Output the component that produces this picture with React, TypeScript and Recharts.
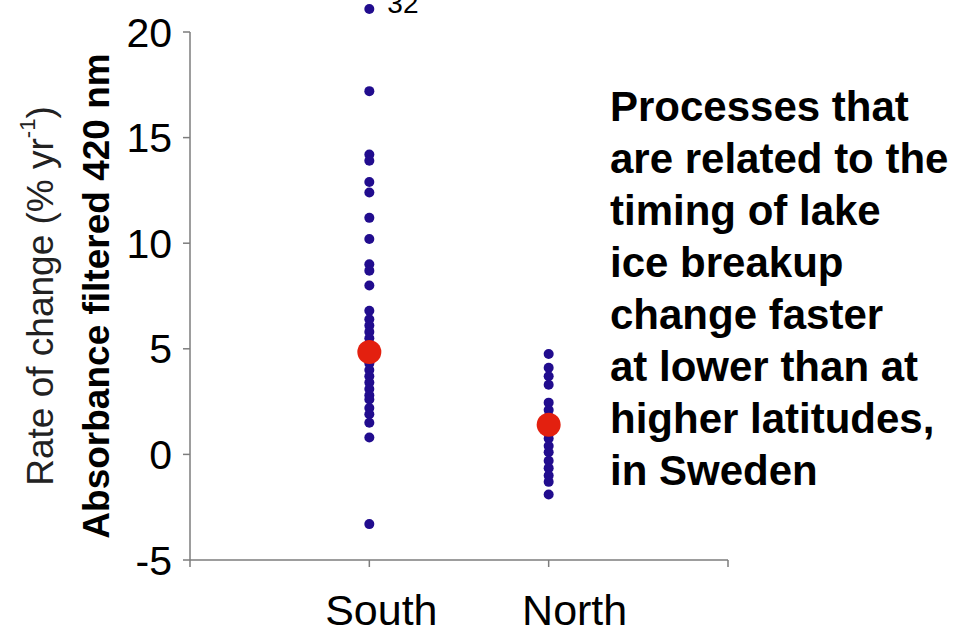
import React from "react";
import { ScatterChart, Scatter, XAxis, YAxis, ReferenceDot } from "recharts";

// x position of each group on the numeric category axis
const CATEGORIES = ["South", "North"];
const CATEGORY_POS = [1, 2];

// rates of change (% per year)
const SOUTH_VALUES = [
  17.2, 14.2, 13.9, 12.9, 12.4, 11.2, 10.2, 9.0, 8.7, 8.0, 6.8, 6.4, 6.1, 5.8, 5.5, 5.2,
  4.9, 4.6, 4.3, 4.0, 3.7, 3.4, 3.1, 2.8, 2.6, 2.2, 1.9, 1.5, 0.8, -3.3,
];
const SOUTH_OUTLIER = 32; // off the scale, drawn above the frame
const NORTH_VALUES = [
  4.75, 4.1, 3.7, 3.3, 2.45, 2.1, 1.8, 1.4, 1.0, 0.75, 0.4, 0.1, -0.3, -0.65, -1.0, -1.3, -1.9,
];
const MEANS = [4.85, 1.4];

const Y_TICKS = [-5, 0, 5, 10, 15, 20];
const Y_MIN = -5;
const Y_MAX = 20;

const BLUE = "#210c8e";
const RED = "#e3200f";
const AXIS = "#7d7d7d";
const FONT = "'Liberation Sans', Arial, Helvetica, sans-serif";

const southData = SOUTH_VALUES.map((y) => ({ x: CATEGORY_POS[0], y }));
const northData = NORTH_VALUES.map((y) => ({ x: CATEGORY_POS[1], y }));
const meanData = MEANS.map((y, i) => ({ x: CATEGORY_POS[i], y }));

const smallDot = (props: any) => <circle cx={props.cx} cy={props.cy} r={5} fill={BLUE} />;
const bigDot = (props: any) => <circle cx={props.cx} cy={props.cy} r={12} fill={RED} />;

// the 32 value sits above the top of the frame with its value written beside it
const OutlierDot = (props: any) => (
  <g>
    <circle cx={props.cx} cy={props.cy - 23} r={5} fill={BLUE} />
    <text x={props.cx + 18} y={props.cy - 19} fontSize={28} fontFamily={FONT} fill="#000">
      {SOUTH_OUTLIER}
    </text>
  </g>
);

const labelShift: Record<string, number> = { South: 12, North: 26 };

const CategoryTick = (props: any) => {
  const idx = CATEGORY_POS.indexOf(props.payload.value);
  if (idx < 0) return null;
  const name = CATEGORIES[idx];
  return (
    <text
      x={props.x + (labelShift[name] || 0)}
      y={props.y}
      dy={56}
      textAnchor="middle"
      fontSize={43}
      fontFamily={FONT}
      fill="#000"
    >
      {name}
    </text>
  );
};

const YLabels = (props: any) => {
  const vb = props.viewBox || { x: 0, y: 32, width: 190, height: 528 };
  const cy = vb.y + vb.height / 2;
  return (
    <g>
      <text
        transform={`translate(40, ${cy}) rotate(-90)`}
        textAnchor="middle"
        dominantBaseline="central"
        fontSize={37}
        fontFamily={FONT}
        fill="#222"
      >
        Rate of change (% yr
        <tspan dy={-13} fontSize={22}>-1</tspan>
        <tspan dy={13}>)</tspan>
      </text>
      <text
        transform={`translate(96, ${cy}) rotate(-90)`}
        textAnchor="middle"
        dominantBaseline="central"
        fontSize={37}
        fontWeight="bold"
        fontFamily={FONT}
        fill="#000"
      >
        Absorbance filtered 420 nm
      </text>
    </g>
  );
};

const App = () => {
  return (
    <div style={{ position: "absolute", left: 0, top: 0, width: 967, height: 631, background: "#fff" }}>
      <ScatterChart width={967} height={631} margin={{ top: 32, right: 239, bottom: 0, left: 0 }}>
        <XAxis
          type="number"
          dataKey="x"
          domain={[0, 3]}
          ticks={[0, 1, 2, 3]}
          height={71}
          tickSize={7}
          tick={<CategoryTick />}
          axisLine={{ stroke: AXIS, strokeWidth: 1.5 }}
          tickLine={{ stroke: AXIS, strokeWidth: 1.5 }}
          interval={0}
        />
        <XAxis
          xAxisId="top"
          orientation="top"
          type="number"
          domain={[0, 3]}
          height={0}
          tick={false}
          tickLine={false}
          axisLine={{ stroke: AXIS, strokeWidth: 1.5 }}
        />
        <YAxis
          type="number"
          dataKey="y"
          domain={[Y_MIN, Y_MAX]}
          ticks={Y_TICKS}
          width={190}
          tickSize={7}
          tickMargin={11}
          interval={0}
          tick={{ fontSize: 41, fontFamily: FONT, fill: "#000" }}
          axisLine={{ stroke: AXIS, strokeWidth: 1.5 }}
          tickLine={{ stroke: AXIS, strokeWidth: 1.5 }}
          label={{ content: <YLabels /> }}
        />
        <YAxis
          yAxisId="right"
          orientation="right"
          type="number"
          domain={[Y_MIN, Y_MAX]}
          width={0}
          tick={false}
          tickLine={false}
          axisLine={{ stroke: AXIS, strokeWidth: 1.5 }}
        />
        <Scatter data={southData} shape={smallDot} isAnimationActive={false} />
        <Scatter data={northData} shape={smallDot} isAnimationActive={false} />
        <Scatter data={meanData} shape={bigDot} isAnimationActive={false} />
        <ReferenceDot x={CATEGORY_POS[0]} y={Y_MAX} ifOverflow="visible" shape={OutlierDot} />
      </ScatterChart>
      <div
        style={{
          position: "absolute",
          left: 600,
          top: 70,
          width: 357,
          height: 421,
          padding: "11px 0 0 10px",
          background: "#fff",
          fontFamily: FONT,
          fontWeight: "bold",
          fontSize: 42,
          lineHeight: "52px",
          color: "#000",
          whiteSpace: "nowrap",
        }}
      >
        Processes that
        <br />
        are related to the
        <br />
        timing of lake
        <br />
        ice breakup
        <br />
        change faster
        <br />
        at lower than at
        <br />
        higher latitudes,
        <br />
        in Sweden
      </div>
    </div>
  );
};

export default App;
